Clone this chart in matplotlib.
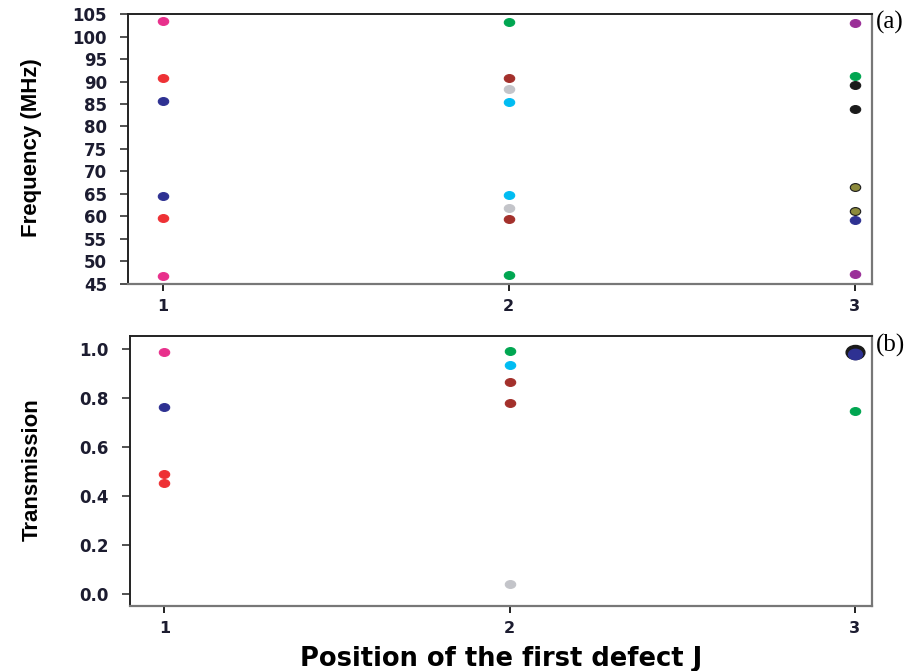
import matplotlib
matplotlib.use("Agg")
import matplotlib.pyplot as plt
from matplotlib import font_manager
from matplotlib.path import Path
from matplotlib.transforms import Affine2D

# ---------------------------------------------------------------------------
# Data: resonance frequencies and transmissions vs. position of first defect
# ---------------------------------------------------------------------------
positions = [1, 2, 3]

freq_j1 = [103.5, 90.7, 85.7, 64.6, 59.6, 46.8]
freq_j2 = [103.2, 90.7, 88.4, 85.4, 64.8, 61.9, 59.4, 46.9]
freq_j3 = [103.1, 91.2, 89.2, 83.8, 66.6, 61.2, 59.1, 47.2]

trans_j1 = [0.988, 0.764, 0.489, 0.452]
trans_j2 = [0.993, 0.935, 0.865, 0.782, 0.041]
trans_j3 = [0.988, 0.748]

PINK, RED, NAVY = "#e8308c", "#ee3135", "#2e3192"
GREEN, DRED, GREY = "#00a651", "#a3302b", "#c3c4c9"
CYAN, PURPLE, BLACK, OLIVE = "#00bcf2", "#9b2f98", "#1a1a1a", "#8c8a3c"

freq_j1_colors = [PINK, RED, NAVY, NAVY, RED, PINK]
freq_j2_colors = [GREEN, DRED, GREY, CYAN, CYAN, GREY, DRED, GREEN]
freq_j3_colors = [PURPLE, GREEN, BLACK, BLACK, OLIVE, OLIVE, NAVY, PURPLE]

trans_j1_colors = [PINK, NAVY, RED, RED]
trans_j2_colors = [GREEN, CYAN, DRED, DRED, GREY]
trans_j3_colors = [NAVY, GREEN]

freq_ticks = list(range(45, 106, 5))
trans_ticks = [0.0, 0.2, 0.4, 0.6, 0.8, 1.0]

# ---------------------------------------------------------------------------
# Fonts
# ---------------------------------------------------------------------------
installed = {f.name for f in font_manager.fontManager.ttflist}
WIDE = "DejaVu Sans"
NARROW = "Liberation Sans" if "Liberation Sans" in installed else "DejaVu Sans"
SERIF = "Liberation Serif" if "Liberation Serif" in installed else "DejaVu Serif"

# slightly flattened dot, like the printed symbols
ELLIPSE = Path.unit_circle().transformed(Affine2D().scale(1.0, 0.75))

fig = plt.figure(figsize=(9.14, 6.71), dpi=100)
ax1 = fig.add_axes([0.140, 0.577, 0.814, 0.402])
ax2 = fig.add_axes([0.142, 0.097, 0.812, 0.402])

TICK_COLOR = "#1c1c30"


def style_axes(ax, yticks, yfmt):
    for side in ["left", "top"]:
        ax.spines[side].set_color("#222222")
        ax.spines[side].set_linewidth(1.4)
    for side in ["right", "bottom"]:
        ax.spines[side].set_color("#777777")
        ax.spines[side].set_linewidth(1.6)
    ax.set_xlim(0.9, 3.05)
    ax.set_xticks(positions)
    ax.set_xticklabels([str(p) for p in positions], fontfamily=WIDE,
                       fontweight="bold", fontsize=11.5, color=TICK_COLOR)
    ax.set_yticks(yticks)
    ax.set_yticklabels([yfmt.format(v) for v in yticks], fontfamily=WIDE,
                       fontweight="bold", fontsize=12, color=TICK_COLOR)
    ax.tick_params(axis="y", direction="out", length=6, width=1.2, pad=9,
                   color="#333333")
    ax.tick_params(axis="x", direction="out", length=5, width=1.4, pad=6,
                   color="#222222")


# (a) frequencies
for x, vals, cols in zip(positions, [freq_j1, freq_j2, freq_j3],
                         [freq_j1_colors, freq_j2_colors, freq_j3_colors]):
    for v, c in zip(vals, cols):
        edge = BLACK if c == OLIVE else c
        ax1.plot(x, v, marker=ELLIPSE, ms=7.5, color=c, mec=edge, mew=0.8,
                 ls="none")
ax1.set_ylim(45, 105)
style_axes(ax1, freq_ticks, "{:d}")
ax1.set_ylabel("Frequency (MHz)", fontfamily=NARROW, fontweight="bold",
               fontsize=16)
ax1.yaxis.set_label_coords(-0.1156, 0.504)
fig.text(0.958, 0.967, "(a)", fontfamily=SERIF, fontsize=18, va="center")

# (b) transmissions
for x, vals, cols in zip(positions, [trans_j1, trans_j2, trans_j3],
                         [trans_j1_colors, trans_j2_colors, trans_j3_colors]):
    for i, (v, c) in enumerate(zip(vals, cols)):
        if x == 3 and i == 0:
            # two coincident modes drawn as one enlarged dot
            ax2.plot(x, v, marker=ELLIPSE, ms=13.5, color=BLACK, ls="none")
            ax2.plot(x, v - 0.006, marker=ELLIPSE, ms=10, color=NAVY,
                     ls="none")
        else:
            ax2.plot(x, v, marker=ELLIPSE, ms=7.5, color=c, mec=c, mew=0.8,
                     ls="none")
ax2.set_ylim(-0.049, 1.054)
style_axes(ax2, trans_ticks, "{:.1f}")
ax2.set_ylabel("Transmission", fontfamily=NARROW, fontweight="bold",
               fontsize=16)
ax2.yaxis.set_label_coords(-0.117, 0.504)
ax2.set_xlabel("Position of the first defect J", fontfamily=WIDE,
               fontweight="bold", fontsize=18.5)
ax2.xaxis.set_label_coords(0.5007, -0.150)
fig.text(0.958, 0.485, "(b)", fontfamily=SERIF, fontsize=18, va="center")

fig.savefig("out.png", dpi=100)
